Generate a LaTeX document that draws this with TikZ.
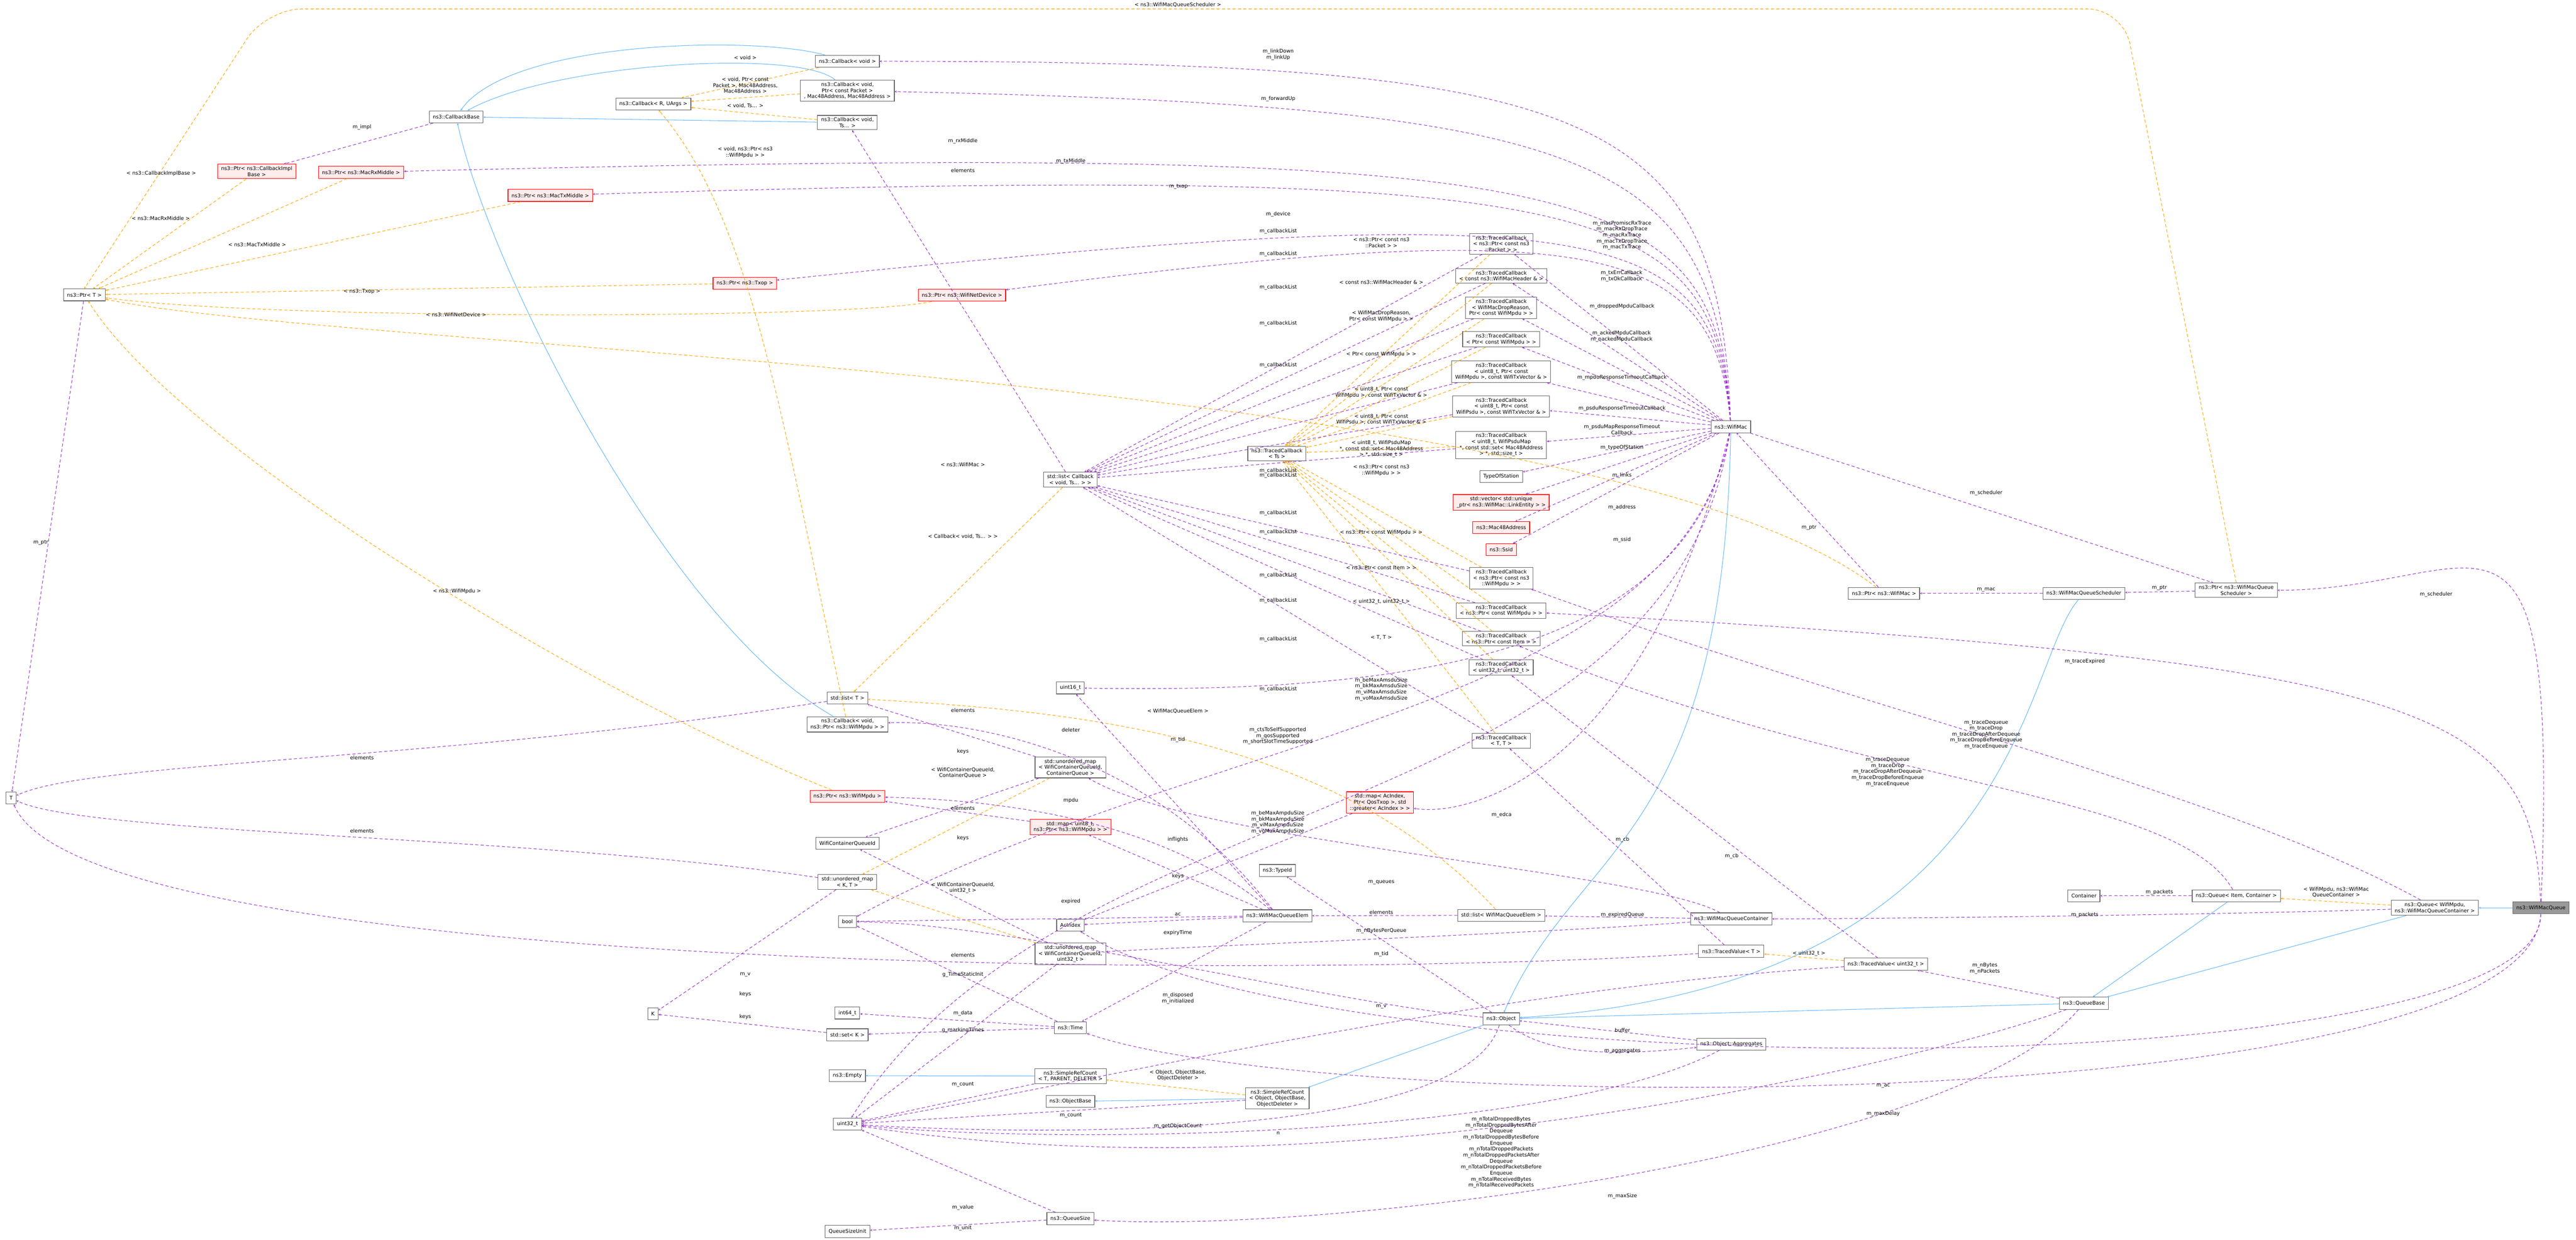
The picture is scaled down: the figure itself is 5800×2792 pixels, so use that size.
\documentclass[tikz,border=0pt]{standalone}
\usepackage{fontspec}
\setmainfont{DejaVu Sans}
\usetikzlibrary{positioning,arrows,calc,shapes}
\definecolor{usecol}{HTML}{9A32CD}
\definecolor{tmplcol}{HTML}{FFA500}
\definecolor{inhcol}{HTML}{63B8FF}
\definecolor{boxcol}{HTML}{666666}

\begin{document}
\begin{tikzpicture}[x=1pt,y=-1pt,>=stealth,font=\fontsize{11.5}{13.5}\selectfont]
	\tikzstyle{box}=[rectangle,draw=boxcol,line width=1.3pt,fill=white,align=center,inner xsep=8pt,inner ysep=5pt,minimum height=27pt]
	\tikzstyle{redbox}=[box,draw=red,fill=red!7]
	\tikzstyle{mainbox}=[box,fill=black!40]
	\tikzstyle{lbl}=[align=center,inner sep=1pt]
	\tikzstyle{use}=[->,usecol,dashed,line width=1.2pt,dash pattern=on 7pt off 5pt]
	\tikzstyle{tmpl}=[->,tmplcol,dashed,line width=1.2pt,dash pattern=on 7pt off 5pt]
	\tikzstyle{inh}=[->,inhcol,line width=1.2pt]
	\useasboundingbox (0,0) rectangle (5800,2792);

	%left column
	\node[box] (PtrT) at (190,664) {ns3::Ptr< T >};
	\node[box] (T) at (25,1797) {T};
	\node[box] (CallbackBase) at (1027,263) {ns3::CallbackBase};
	\node[redbox] (PtrCbImpl) at (578,386) {ns3::Ptr< ns3::CallbackImpl\\Base >};
	\node[redbox] (PtrRx) at (813,388) {ns3::Ptr< ns3::MacRxMiddle >};
	\node[redbox] (PtrTx) at (1239,440) {ns3::Ptr< ns3::MacTxMiddle >};
	\node[box] (CallbackR) at (1471,234) {ns3::Callback< R, UArgs >};
	\node[box] (K) at (1470,2283) {K};

	%callbacks and pointers
	\node[box] (CbVoid) at (1908,138) {ns3::Callback< void >};
	\node[box] (CbPkt) at (1908,204) {ns3::Callback< void,\\ Ptr< const Packet >\\, Mac48Address, Mac48Address >};
	\node[box] (CbTs) at (1908,276) {ns3::Callback< void,\\ Ts... >};
	\node[redbox] (PtrTxop) at (1677,638) {ns3::Ptr< ns3::Txop >};
	\node[redbox] (PtrDev) at (2166,665) {ns3::Ptr< ns3::WifiNetDevice >};
	\node[box] (ListCb) at (2410,1080) {std::list< Callback\\< void, Ts... > >};
	\node[box] (ListT) at (1908,1572) {std::list< T >};
	\node[box] (CbWifiMpdu) at (1908,1631) {ns3::Callback< void,\\ ns3::Ptr< ns3::WifiMpdu > >};
	\node[redbox] (PtrMpdu) at (1908,1793) {ns3::Ptr< ns3::WifiMpdu >};
	\node[box] (WCQId) at (1908,1899) {WifiContainerQueueId};
	\node[box] (UMapKT) at (1908,1986) {std::unordered\_map\\< K, T >};
	\node[box] (Bool) at (1908,2075) {bool};
	\node[box] (Int64) at (1908,2281) {int64\_t};
	\node[box] (SetK) at (1908,2330) {std::set< K >};
	\node[box] (Empty) at (1908,2422) {ns3::Empty};
	\node[box] (Uint32) at (1908,2531) {uint32\_t};
	\node[box] (QSUnit) at (1908,2773) {QueueSizeUnit};

	%second column
	\node[box] (Uint16) at (2410,1549) {uint16\_t};
	\node[box] (UMapCQ) at (2410,1728) {std::unordered\_map\\< WifiContainerQueueId,\\ ContainerQueue >};
	\node[redbox] (MapInfl) at (2410,1862) {std::map< uint8\_t,\\ ns3::Ptr< ns3::WifiMpdu > >};
	\node[box] (AcIndex) at (2410,2083) {AcIndex};
	\node[box] (UMapU32) at (2410,2148) {std::unordered\_map\\< WifiContainerQueueId,\\ uint32\_t >};
	\node[box] (Time) at (2410,2314) {ns3::Time};
	\node[box] (SRC) at (2410,2423) {ns3::SimpleRefCount\\< T, PARENT, DELETER >};
	\node[box] (ObjectBase) at (2410,2480) {ns3::ObjectBase};
	\node[box] (QueueSize) at (2410,2744) {ns3::QueueSize};

	%third column
	\node[box] (TCTs) at (2875,1021) {ns3::TracedCallback\\< Ts >};
	\node[redbox] (MapEdca) at (3107,1807) {std::map< AcIndex,\\ Ptr< QosTxop >, std\\::greater< AcIndex > >};
	\node[box] (TypeId) at (2876,1960) {ns3::TypeId};
	\node[box] (WMQElem) at (2876,2062) {ns3::WifiMacQueueElem};
	\node[box] (SROC) at (2876,2473) {ns3::SimpleRefCount\\< Object, ObjectBase,\\ ObjectDeleter >};

	%traced callbacks
	\node[box] (TC1) at (3380,549) {ns3::TracedCallback\\< ns3::Ptr< const ns3\\::Packet > >};
	\node[box] (TC2) at (3380,621) {ns3::TracedCallback\\< const ns3::WifiMacHeader \& >};
	\node[box] (TC3) at (3380,693) {ns3::TracedCallback\\< WifiMacDropReason,\\ Ptr< const WifiMpdu > >};
	\node[box] (TC4) at (3380,764) {ns3::TracedCallback\\< Ptr< const WifiMpdu > >};
	\node[box] (TC5) at (3380,837) {ns3::TracedCallback\\< uint8\_t, Ptr< const\\ WifiMpdu >, const WifiTxVector \& >};
	\node[box] (TC6) at (3380,915) {ns3::TracedCallback\\< uint8\_t, Ptr< const\\ WifiPsdu >, const WifiTxVector \& >};
	\node[box] (TC7) at (3380,1002) {ns3::TracedCallback\\< uint8\_t, WifiPsduMap\\ *, const std::set< Mac48Address\\ > *, std::size\_t >};
	\node[box] (TypeOfStation) at (3380,1073) {TypeOfStation};
	\node[redbox] (VecLink) at (3380,1131) {std::vector< std::unique\\\_ptr< ns3::WifiMac::LinkEntity > >};
	\node[redbox] (Mac48) at (3380,1188) {ns3::Mac48Address};
	\node[redbox] (Ssid) at (3380,1238) {ns3::Ssid};
	\node[box] (TC8) at (3380,1302) {ns3::TracedCallback\\< ns3::Ptr< const ns3\\::WifiMpdu > >};
	\node[box] (TC9) at (3380,1375) {ns3::TracedCallback\\< ns3::Ptr< const WifiMpdu > >};
	\node[box] (TCItem) at (3380,1438) {ns3::TracedCallback\\< ns3::Ptr< const Item > >};
	\node[box] (TCU32) at (3380,1503) {ns3::TracedCallback\\< uint32\_t, uint32\_t >};
	\node[box] (TCTT) at (3380,1668) {ns3::TracedCallback\\< T, T >};
	\node[box] (ListElem) at (3380,2061) {std::list< WifiMacQueueElem >};
	\node[box] (Object) at (3380,2294) {ns3::Object};

	%right part
	\node[box] (WifiMac) at (3897,961) {ns3::WifiMac};
	\node[box] (WMQC) at (3898,2069) {ns3::WifiMacQueueContainer};
	\node[box] (TVT) at (3898,2142) {ns3::TracedValue< T >};
	\node[box] (Aggregates) at (3898,2351) {ns3::Object::Aggregates};
	\node[box] (PtrWifiMac) at (4242,1336) {ns3::Ptr< ns3::WifiMac >};
	\node[box] (TVU) at (4246,2171) {ns3::TracedValue< uint32\_t >};
	\node[box] (WMQS) at (4692,1336) {ns3::WifiMacQueueScheduler};
	\node[box] (PtrSched) at (5035,1329) {ns3::Ptr< ns3::WifiMacQueue\\Scheduler >};
	\node[box] (Container) at (4692,2017) {Container};
	\node[box] (QueueIC) at (5035,2017) {ns3::Queue< Item, Container >};
	\node[box] (QueueBase) at (4692,2259) {ns3::QueueBase};
	\node[box] (QueueWM) at (5482,2044) {ns3::Queue< WifiMpdu,\\ ns3::WifiMacQueueContainer >};
	\node[mainbox] (WMQ) at (5721,2044) {ns3::WifiMacQueue};

	%inheritance
	\draw[inh] (CbVoid) .. controls (1700,80) and (1150,90) .. (CallbackBase);
	\draw[inh] (CbPkt) .. controls (1800,110) and (1250,140) .. (CallbackBase);
	\draw[inh] (CbTs) -- (CallbackBase);
	\draw[inh] (CbWifiMpdu) .. controls (1500,1400) and (1100,600) .. (CallbackBase);
	\draw[inh] (SRC) -- (Empty);
	\draw[inh] (SROC) -- (ObjectBase);
	\draw[inh] (Object) -- (SROC);
	\draw[inh] (WifiMac) .. controls (3880,1900) and (3550,1900) .. (Object);
	\draw[inh] (WMQS) .. controls (4550,1500) and (4550,2220) .. (Object);
	\draw[inh] (QueueBase) -- (Object);
	\draw[inh] (QueueIC) -- (QueueBase);
	\draw[inh] (QueueWM) -- (QueueBase);
	\draw[inh] (WMQ) -- (QueueWM);

	%template instances
	\draw[tmpl,rounded corners=80pt] (PtrSched.north) -- (4780,20) -- (600,20) -- (PtrT.north);
	\draw[tmpl] (PtrCbImpl) -- (PtrT);
	\draw[tmpl] (PtrRx) -- (PtrT);
	\draw[tmpl] (PtrTx) -- (PtrT);
	\draw[tmpl] (PtrTxop) -- (PtrT);
	\draw[tmpl] (PtrDev) .. controls (1900,720) and (600,720) .. (PtrT);
	\draw[tmpl] (PtrWifiMac) .. controls (3600,840) and (800,790) .. (PtrT);
	\draw[tmpl] (PtrMpdu) .. controls (1300,1550) and (400,1000) .. (PtrT);
	\draw[tmpl] (CbVoid) -- (CallbackR);
	\draw[tmpl] (CbPkt) -- (CallbackR);
	\draw[tmpl] (CbTs) -- (CallbackR);
	\draw[tmpl] (CbWifiMpdu) .. controls (1770,1000) and (1700,500) .. (CallbackR);
	\foreach \tc in {TC1,TC2,TC3,TC4,TC5,TC6,TC7,TC8,TC9,TCItem,TCU32,TCTT}
		\draw[tmpl] (\tc) -- (TCTs);
	\draw[tmpl] (ListCb) -- (ListT);
	\draw[tmpl] (ListElem) .. controls (3000,1650) and (2400,1600) .. (ListT);
	\draw[tmpl] (UMapCQ) -- (UMapKT);
	\draw[tmpl] (UMapU32) -- (UMapKT);
	\draw[tmpl] (SROC) -- (SRC);
	\draw[tmpl] (TVU) -- (TVT);
	\draw[tmpl] (QueueWM) -- (QueueIC);

	%members of WifiMac
	\draw[use] (WifiMac) .. controls (3870,250) and (3600,138) .. (CbVoid);
	\draw[use] (WifiMac) .. controls (3860,350) and (3600,240) .. (CbPkt);
	\draw[use] (WifiMac) .. controls (3860,400) and (3600,320) .. (PtrRx);
	\draw[use] (WifiMac) .. controls (3860,450) and (3600,370) .. (PtrTx);
	\draw[use] (WifiMac) .. controls (3860,500) and (3600,440) .. (PtrTxop);
	\draw[use] (WifiMac) .. controls (3860,550) and (3600,480) .. (PtrDev);
	\draw[use] (WifiMac) -- (TC1);
	\draw[use] (WifiMac) -- (TC2);
	\draw[use] (WifiMac) -- (TC3);
	\draw[use] (WifiMac) -- (TC4);
	\draw[use] (WifiMac) -- (TC5);
	\draw[use] (WifiMac) -- (TC6);
	\draw[use] (WifiMac) -- (TC7);
	\draw[use] (WifiMac) -- (TypeOfStation);
	\draw[use] (WifiMac) -- (VecLink);
	\draw[use] (WifiMac) -- (Mac48);
	\draw[use] (WifiMac) -- (Ssid);
	\draw[use] (WifiMac) -- (PtrSched);
	\draw[use] (WifiMac) .. controls (3800,1500) and (3100,1560) .. (Uint16);
	\draw[use] (WifiMac) .. controls (3780,1600) and (2700,1650) .. (Bool);
	\draw[use] (WifiMac) .. controls (3700,1750) and (3300,1840) .. (MapEdca);
	\draw[use] (WifiMac) .. controls (3750,1880) and (2400,1750) .. (Uint32);
	\draw[use] (PtrWifiMac) -- (WifiMac);
	\draw[use] (WMQS) -- (PtrWifiMac);
	\draw[use] (PtrSched) -- (WMQS);

	%callback lists
	\foreach \tc in {TC1,TC2,TC3,TC4,TC5,TC6,TC7,TC8,TC9,TCItem,TCU32,TCTT}
		\draw[use] (\tc) -- (ListCb);
	\draw[use] (ListCb) -- (CbTs);
	\draw[use] (CallbackBase) -- (PtrCbImpl);
	\draw[use] (PtrT) -- (T);
	\draw[use] (ListT) .. controls (1000,1714) and (200,1714) .. (T);
	\draw[use] (UMapKT) .. controls (1200,1880) and (200,1880) .. (T);
	\draw[use] (TVT) .. controls (3000,2204) and (200,2204) .. (T);

	%containers
	\draw[use] (UMapCQ) -- (ListT);
	\draw[use] (UMapCQ) -- (WCQId);
	\draw[use] (UMapU32) -- (WCQId);
	\draw[use] (UMapU32) -- (Uint32);
	\draw[use] (UMapKT) -- (K);
	\draw[use] (SetK) -- (K);
	\draw[use] (MapInfl) -- (PtrMpdu);
	\draw[use] (MapEdca) -- (AcIndex);
	\draw[use] (ListElem) -- (WMQElem);
	\draw[use] (WMQElem) .. controls (2600,1700) and (2200,1620) .. (CbWifiMpdu);
	\draw[use] (WMQElem) .. controls (2600,1830) and (2200,1800) .. (PtrMpdu);
	\draw[use] (WMQElem) -- (MapInfl);
	\draw[use] (WMQElem) -- (Bool);
	\draw[use] (WMQElem) -- (AcIndex);
	\draw[use] (WMQElem) -- (Time);
	\draw[use] (WMQElem) -- (Uint16);
	\draw[use] (WMQC) .. controls (3700,1960) and (2700,1900) .. (UMapCQ);
	\draw[use] (WMQC) -- (ListElem);
	\draw[use] (WMQC) .. controls (3500,2100) and (2700,2130) .. (UMapU32);

	%object and values
	\draw[use] (TVT) -- (TCTT);
	\draw[use] (TVU) -- (TCU32);
	\draw[use] (TVU) .. controls (3300,2230) and (2400,2450) .. (Uint32);
	\draw[use] (Object) -- (TypeId);
	\draw[use] (Object) .. controls (3000,2260) and (2300,2080) .. (Bool);
	\draw[use] (Object) .. controls (3500,2390) and (3700,2370) .. (Aggregates);
	\draw[use] (Aggregates) -- (Object);
	\draw[use] (Object) .. controls (3300,2560) and (2400,2560) .. (Uint32);
	\draw[use] (Aggregates) .. controls (3500,2560) and (2400,2580) .. (Uint32);
	\draw[use] (SRC) -- (Uint32);
	\draw[use] (SROC) -- (Uint32);
	\draw[use] (Time) -- (Int64);
	\draw[use] (Time) -- (SetK);
	\draw[use] (Time) -- (Bool);
	\draw[use] (QueueSize) -- (Uint32);
	\draw[use] (QueueSize) -- (QSUnit);

	%queue members
	\draw[use] (QueueIC) -- (Container);
	\draw[use] (QueueWM) .. controls (5000,2060) and (4200,2069) .. (WMQC);
	\draw[use] (QueueWM) .. controls (5000,1780) and (4200,1600) .. (TC8);
	\draw[use] (QueueIC) .. controls (4900,1780) and (4200,1775) .. (TCItem);
	\draw[use] (QueueBase) -- (TVU);
	\draw[use] (QueueBase) .. controls (4300,2400) and (3000,2700) .. (Uint32);
	\draw[use] (QueueBase) .. controls (4400,2600) and (3000,2780) .. (QueueSize);
	\draw[use] (WMQ) .. controls (5760,1000) and (5600,1329) .. (PtrSched);
	\draw[use] (WMQ) .. controls (5700,1600) and (5500,1489) .. (TC9);
	\draw[use] (WMQ) .. controls (5720,2454) and (3000,2454) .. (AcIndex);
	\draw[use] (WMQ) .. controls (5700,2519) and (3000,2519) .. (Time);

	%labels
	\node[lbl] (lSched) at (2652,11) {< ns3::WifiMacQueueScheduler >};
	\node[lbl] (lImpl) at (815,286) {m\_impl};
	\node[lbl] (lCbImpl) at (363,391) {< ns3::CallbackImplBase >};
	\node[lbl] (lRxT) at (362,492) {< ns3::MacRxMiddle >};
	\node[lbl] (lTxT) at (579,551) {< ns3::MacTxMiddle >};
	\node[lbl] (lTxopT) at (815,656) {< ns3::Txop >};
	\node[lbl] (lDevT) at (1027,708) {< ns3::WifiNetDevice >};
	\node[lbl] (lMacT) at (2168,1046) {< ns3::WifiMac >};
	\node[lbl] (lMpduT) at (1029,1331) {< ns3::WifiMpdu >};
	\node[lbl] (lPtr) at (92,1222) {m\_ptr};
	\node[lbl] (lVoid) at (1678,130) {< void >};
	\node[lbl] (lVoidPkt) at (1678,192) {< void, Ptr< const\\Packet >, Mac48Address,\\Mac48Address >};
	\node[lbl] (lVoidTs) at (1678,238) {< void, Ts... >};
	\node[lbl] (lVoidMpdu) at (1678,343) {< void, ns3::Ptr< ns3\\::WifiMpdu > >};
	\node[lbl] (lRx) at (2168,318) {m\_rxMiddle};
	\node[lbl] (lTx) at (2411,363) {m\_txMiddle};
	\node[lbl] (lElemCb) at (2168,384) {elements};
	\node[lbl] (lTxop) at (2653,420) {m\_txop};
	\node[lbl] (lListCb) at (2168,1208) {< Callback< void, Ts... > >};
	\node[lbl] (lLink) at (2878,123) {m\_linkDown\\m\_linkUp};
	\node[lbl] (lFwd) at (2878,223) {m\_forwardUp};
	\node[lbl] (lDev) at (2878,483) {m\_device};
	\foreach \yy [count=\i] in {521,572,647,728,822,1060,1071,1155,1198,1296,1353,1439,1552}
		\node[lbl] (lCbList\i) at (2878,\yy) {m\_callbackList};
	\node[lbl] (lT1) at (3110,546) {< ns3::Ptr< const ns3\\::Packet > >};
	\node[lbl] (lT2) at (3110,636) {< const ns3::WifiMacHeader \& >};
	\node[lbl] (lT3) at (3110,712) {< WifiMacDropReason,\\Ptr< const WifiMpdu > >};
	\node[lbl] (lT4) at (3110,798) {< Ptr< const WifiMpdu > >};
	\node[lbl] (lT5) at (3110,884) {< uint8\_t, Ptr< const\\WifiMpdu >, const WifiTxVector \& >};
	\node[lbl] (lT6) at (3110,944) {< uint8\_t, Ptr< const\\WifiPsdu >, const WifiTxVector \& >};
	\node[lbl] (lT7) at (3110,1011) {< uint8\_t, WifiPsduMap\\*, const std::set< Mac48Address\\> *, std::size\_t >};
	\node[lbl] (lT8) at (3110,1059) {< ns3::Ptr< const ns3\\::WifiMpdu > >};
	\node[lbl] (lT9) at (3110,1199) {< ns3::Ptr< const WifiMpdu > >};
	\node[lbl] (lTItem) at (3110,1278) {< ns3::Ptr< const Item > >};
	\node[lbl] (lTU32) at (3110,1355) {< uint32\_t, uint32\_t >};
	\node[lbl] (lTTT) at (3110,1436) {< T, T >};
	\node[lbl] (lPromisc) at (3652,530) {m\_macPromiscRxTrace\\m\_macRxDropTrace\\m\_macRxTrace\\m\_macTxDropTrace\\m\_macTxTrace};
	\node[lbl] (lTxErr) at (3651,622) {m\_txErrCallback\\m\_txOkCallback};
	\node[lbl] (lDropped) at (3652,690) {m\_droppedMpduCallback};
	\node[lbl] (lAcked) at (3651,757) {m\_ackedMpduCallback\\m\_nackedMpduCallback};
	\node[lbl] (lMpduResp) at (3652,850) {m\_mpduResponseTimeoutCallback};
	\node[lbl] (lPsduResp) at (3652,920) {m\_psduResponseTimeoutCallback};
	\node[lbl] (lPsduMap) at (3652,967) {m\_psduMapResponseTimeout\\Callback};
	\node[lbl] (lTos) at (3652,1008) {m\_typeOfStation};
	\node[lbl] (lLinks) at (3652,1071) {m\_links};
	\node[lbl] (lAddr) at (3652,1143) {m\_address};
	\node[lbl] (lSsid) at (3652,1215) {m\_ssid};
	\node[lbl] (lPtrMac) at (4073,1188) {m\_ptr};
	\node[lbl] (lSchedA) at (4472,1110) {m\_scheduler};
	\node[lbl] (lMac) at (4472,1328) {m\_mac};
	\node[lbl] (lPtrS) at (4862,1324) {m\_ptr};
	\node[lbl] (lSchedB) at (5485,1338) {m\_scheduler};
	\node[lbl] (lExpired) at (4694,1489) {m\_traceExpired};
	\node[lbl] (lAmsdu) at (3110,1552) {m\_beMaxAmsduSize\\m\_bkMaxAmsduSize\\m\_viMaxAmsduSize\\m\_voMaxAmsduSize};
	\node[lbl] (lCts) at (2877,1657) {m\_ctsToSelfSupported\\m\_qosSupported\\m\_shortSlotTimeSupported};
	\node[lbl] (lAmpdu) at (2877,1852) {m\_beMaxAmpduSize\\m\_bkMaxAmpduSize\\m\_viMaxAmpduSize\\m\_voMaxAmpduSize};
	\node[lbl] (lEdca) at (3381,1835) {m\_edca};
	\node[lbl] (lCbA) at (3653,1891) {m\_cb};
	\node[lbl] (lCbB) at (3899,1928) {m\_cb};
	\node[lbl] (lTraceA) at (4472,1654) {m\_traceDequeue\\m\_traceDrop\\m\_traceDropAfterDequeue\\m\_traceDropBeforeEnqueue\\m\_traceEnqueue};
	\node[lbl] (lTraceB) at (4250,1738) {m\_traceDequeue\\m\_traceDrop\\m\_traceDropAfterDequeue\\m\_traceDropBeforeEnqueue\\m\_traceEnqueue};
	\node[lbl] (lQueues) at (3110,1987) {m\_queues};
	\node[lbl] (lElemQ) at (3110,2054) {elements};
	\node[lbl] (lExpQ) at (3653,2060) {m\_expiredQueue};
	\node[lbl] (lNBytesQ) at (3110,2096) {m\_nBytesPerQueue};
	\node[lbl] (lTidO) at (3110,2148) {m\_tid};
	\node[lbl] (lU32T) at (4073,2147) {< uint32\_t >};
	\node[lbl] (lVu) at (3110,2267) {m\_v};
	\node[lbl] (lBuffer) at (3653,2320) {buffer};
	\node[lbl] (lAggr) at (3653,2367) {m\_aggregates};
	\node[lbl] (lN) at (2878,2552) {n};
	\node[lbl] (lTotals) at (3380,2595) {m\_nTotalDroppedBytes\\m\_nTotalDroppedBytesAfter\\Dequeue\\m\_nTotalDroppedBytesBefore\\Enqueue\\m\_nTotalDroppedPackets\\m\_nTotalDroppedPacketsAfter\\Dequeue\\m\_nTotalDroppedPacketsBefore\\Enqueue\\m\_nTotalReceivedBytes\\m\_nTotalReceivedPackets};
	\node[lbl] (lMaxSize) at (3653,2693) {m\_maxSize};
	\node[lbl] (lPackets) at (4862,2009) {m\_packets};
	\node[lbl] (lQueueT) at (5260,2009) {< WifiMpdu, ns3::WifiMac\\QueueContainer >};
	\node[lbl] (lPacketsB) at (4694,2060) {m\_packets};
	\node[lbl] (lNBytes) at (4469,2181) {m\_nBytes\\m\_nPackets};
	\node[lbl] (lAc) at (4240,2445) {m\_ac};
	\node[lbl] (lMaxDelay) at (4240,2508) {m\_maxDelay};
	\node[lbl] (lElemA) at (815,1706) {elements};
	\node[lbl] (lElemB) at (815,1871) {elements};
	\node[lbl] (lElemL) at (2168,1599) {elements};
	\node[lbl] (lQElemT) at (2652,1601) {< WifiMacQueueElem >};
	\node[lbl] (lDeleter) at (2411,1643) {deleter};
	\node[lbl] (lTid) at (2652,1666) {m\_tid};
	\node[lbl] (lKeysA) at (2168,1692) {keys};
	\node[lbl] (lCQT) at (2168,1740) {< WifiContainerQueueId,\\ContainerQueue >};
	\node[lbl] (lMpdu) at (2411,1802) {mpdu};
	\node[lbl] (lElemM) at (2168,1820) {elements};
	\node[lbl] (lKeysB) at (2168,1887) {keys};
	\node[lbl] (lInfl) at (2652,1891) {inflights};
	\node[lbl] (lKeysC) at (2652,1973) {keys};
	\node[lbl] (lU32CQ) at (2168,1999) {< WifiContainerQueueId,\\uint32\_t >};
	\node[lbl] (lExp) at (2411,2030) {expired};
	\node[lbl] (lAcE) at (2652,2059) {ac};
	\node[lbl] (lExpT) at (2652,2100) {expiryTime};
	\node[lbl] (lElemU) at (2168,2150) {elements};
	\node[lbl] (lV) at (1678,2195) {m\_v};
	\node[lbl] (lStatic) at (2168,2195) {g\_TimeStaticInit};
	\node[lbl] (lKeysD) at (1678,2239) {keys};
	\node[lbl] (lDisp) at (2652,2248) {m\_disposed\\m\_initialized};
	\node[lbl] (lData) at (2168,2282) {m\_data};
	\node[lbl] (lKeysE) at (1678,2289) {keys};
	\node[lbl] (lMark) at (2168,2320) {g\_markingTimes};
	\node[lbl] (lObjT) at (2652,2421) {< Object, ObjectBase,\\ObjectDeleter >};
	\node[lbl] (lCountA) at (2168,2442) {m\_count};
	\node[lbl] (lCountB) at (2411,2512) {m\_count};
	\node[lbl] (lGetObj) at (2652,2536) {m\_getObjectCount};
	\node[lbl] (lValue) at (2168,2719) {m\_value};
	\node[lbl] (lUnit) at (2168,2765) {m\_unit};
\end{tikzpicture}
\end{document}
